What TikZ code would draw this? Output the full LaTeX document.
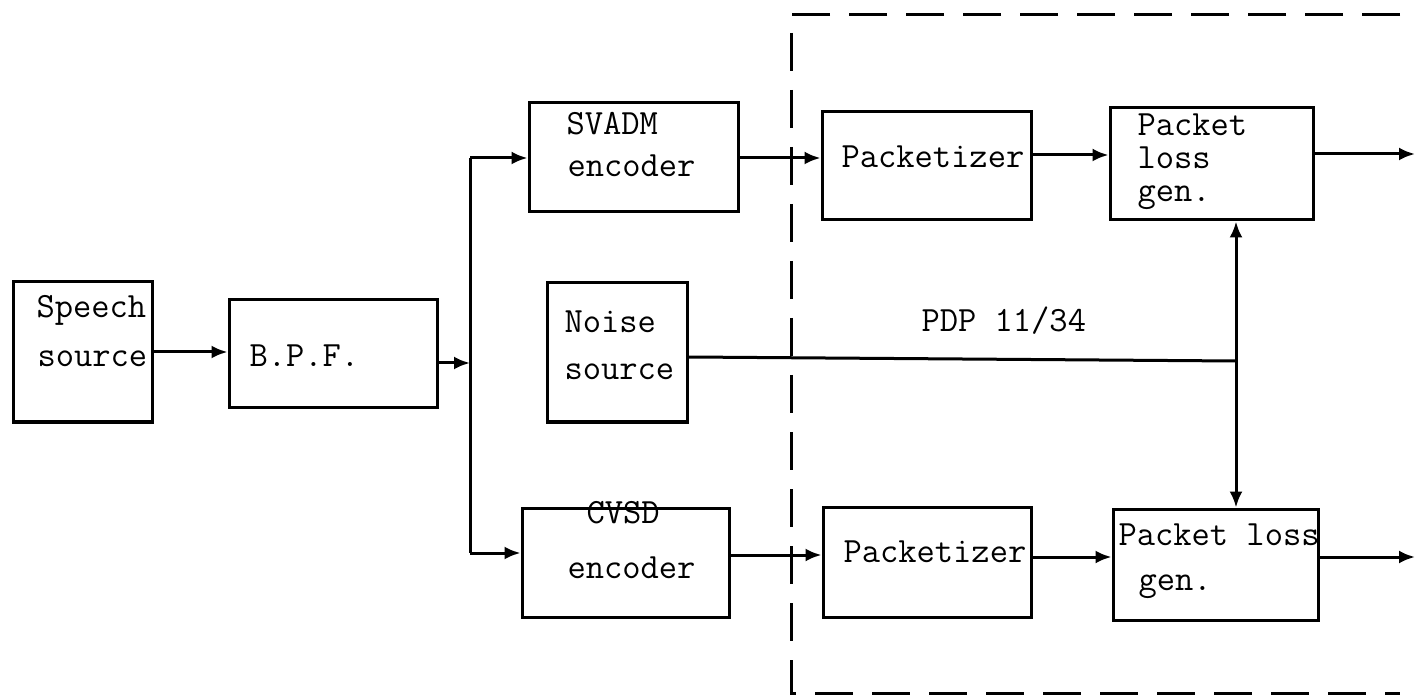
\documentclass[tikz,border=0pt]{standalone}
\usepackage{fontspec}
\usetikzlibrary{arrows.meta}
\begin{document}
\begin{tikzpicture}[x=1pt,y=-1pt,
  line width=3pt,
  box/.style={draw, rectangle, inner sep=0, line width=3pt},
  lbl/.style={font=\ttfamily\addfontfeature{FakeBold=1.2}\fontsize{35.5}{42}\selectfont, inner sep=0, anchor=base west},
  arr/.style={-{Latex[length=16pt,width=13pt]}},
  frame/.style={line width=3pt, dash pattern=on 38pt off 19pt}]
\useasboundingbox (0,0) rectangle (1419,700);
% boxes
\node[box, minimum width=139pt, minimum height=140pt] (sp) at (82.5,352) {};
\node[box, minimum width=208pt, minimum height=108pt] (bpf) at (333,354) {};
\node[box, minimum width=209pt, minimum height=109pt] (svadm) at (633.5,157.5) {};
\node[box, minimum width=140pt, minimum height=139pt] (noise) at (617,352.5) {};
\node[box, minimum width=207pt, minimum height=109pt] (cvsd) at (625.5,562.5) {};
\node[box, minimum width=209pt, minimum height=108pt] (pk1) at (926.5,166) {};
\node[box, minimum width=203pt, minimum height=112pt] (plg1) at (1211.5,164) {};
\node[box, minimum width=208pt, minimum height=110pt] (pk2) at (927,562) {};
\node[box, minimum width=205pt, minimum height=111pt] (plg2) at (1215.5,564.5) {};
% texts
\node[lbl] (t1) at (35,318) {Speech};
\node[lbl] (t2) at (36,367) {source};
\node[lbl] (t3) at (248,367) {B.P.F.};
\node[lbl] (t4) at (565,135) {SVADM};
\node[lbl] (t5) at (566,177) {encoder};
\node[lbl] (t6) at (563,333) {Noise};
\node[lbl] (t7) at (563,380) {source};
\node[lbl] (t8) at (585,523) {CVSD};
\node[lbl] (t9) at (566,578) {encoder};
\node[lbl] (t10) at (840,168) {Packetizer};
\node[lbl] (t11) at (842,562) {Packetizer};
\node[lbl] (t12) at (1136,136) {Packet};
\node[lbl] (t13) at (1136,169) {loss};
\node[lbl] (t14) at (1136,202) {gen.};
\node[lbl] (t15) at (1117,545) {Packet loss};
\node[lbl] (t16) at (1137,590) {gen.};
\node[lbl] (t17) at (920,332) {PDP 11/34};
% junction coordinates
\coordinate (bt) at (470,158);
\coordinate (bm) at (470,363);
\coordinate (bb) at (470,553);
\coordinate (pj) at (1236,361);
\coordinate (o1) at (1415,154);
\coordinate (o2) at (1415,557);
% connectors
\draw[arr] (sp.east |- 0,352) -- (bpf.west |- 0,352);
\draw[arr] (bpf.east |- bm) -- (bm);
\draw (bt) -- (bb);
\draw[arr] (bt) -- (svadm.west |- bt);
\draw[arr] (bb) -- (cvsd.west |- bb);
\draw[arr] (svadm.east |- 0,158) -- (pk1.west |- 0,158);
\draw[arr] (pk1.east |- 0,155) -- (plg1.west |- 0,155);
\draw[arr] (plg1.east |- o1) -- (o1);
\draw[arr] (cvsd.east |- 0,555) -- (pk2.west |- 0,555);
\draw[arr] (pk2.east |- 0,557) -- (plg2.west |- 0,557);
\draw[arr] (plg2.east |- o2) -- (o2);
\draw (noise.east |- 0,357) -- (pj);
\draw[arr] (pj) -- (plg1.south -| pj);
\draw[arr] (pj) -- (plg2.north -| pj);
% dashed frame
\draw[frame] (1400,15) -- (791,15) -- (791,693) -- (1400,693);
\end{tikzpicture}
\end{document}
